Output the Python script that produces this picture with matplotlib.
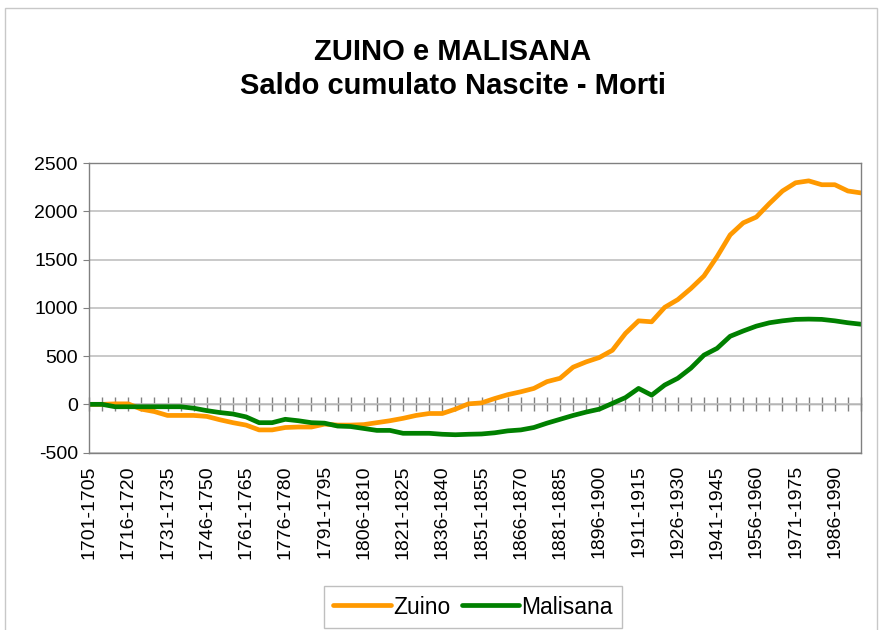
import matplotlib
matplotlib.use("Agg")
import matplotlib.pyplot as plt
from matplotlib.patches import Rectangle

plt.rcParams['font.family'] = ['Liberation Sans', 'DejaVu Sans']

start_years = list(range(1701, 2000, 5))
categories = [f"{y}-{y+4}" for y in start_years]

zuino = [0, 0, 5, 5, -50, -75, -115, -115, -115, -125,
         -160, -190, -215, -265, -265, -240, -235, -235, -205, -215,
         -215, -210, -190, -170, -145, -115, -95, -95, -50, 5,
         15, 60, 100, 130, 165, 235, 270, 385, 440, 485,
         560, 735, 865, 855, 1005, 1085, 1200, 1330, 1530, 1755,
         1880, 1940, 2080, 2210, 2295, 2315, 2275, 2275, 2210, 2190]

malisana = [0, 0, -25, -25, -25, -25, -25, -25, -40, -65,
            -85, -100, -130, -190, -190, -155, -170, -190, -195, -225,
            -230, -250, -270, -270, -300, -300, -300, -310, -315, -310,
            -307, -295, -275, -265, -240, -195, -155, -115, -80, -50,
            10, 70, 165, 95, 200, 270, 375, 510, 580, 705,
            760, 810, 845, 865, 880, 883, 880, 865, 845, 830]

yticks = [-500, 0, 500, 1000, 1500, 2000, 2500]

fig = plt.figure(figsize=(8.82, 6.3), dpi=100)
ax = fig.add_axes([89/882, 1-452.6/630, (861-89)/882, (452.6-163)/630])

x = list(range(len(categories)))
ax.plot(x, zuino, color='#FF9900', lw=3.4, label='Zuino', solid_capstyle='round', solid_joinstyle='round')
ax.plot(x, malisana, color='#008000', lw=3.4, label='Malisana', solid_capstyle='round', solid_joinstyle='round')

ax.set_xlim(0, len(categories)-1)
ax.set_ylim(-500, 2500)
ax.set_yticks(yticks)
ax.set_yticklabels([str(v) for v in yticks], fontsize=14)
ax.yaxis.grid(True, color='#c0c0c0', lw=1.2)
ax.set_axisbelow(True)
ax.tick_params(axis='y', length=4, color='#808080', pad=4)

ax.set_xticks(x[::3])
ax.set_xticklabels(categories[::3], rotation=90, fontsize=14)
ax.tick_params(axis='x', length=0, pad=9)

for s in ax.spines.values():
    s.set_color('#808080')
    s.set_linewidth(1.0)

# zero-line category axis with tick marks
zero_frac = (0 - (-500)) / (2500 - (-500))
sec = ax.secondary_xaxis(zero_frac)
sec.set_xticks(x)
sec.set_xticklabels([])
sec.tick_params(direction='inout', length=10, color='#808080', width=1)
sec.spines['bottom'].set_color('#808080')
sec.spines['bottom'].set_linewidth(1.0)

fig.text(453/882, 1-69/630, "ZUINO e MALISANA\nSaldo cumulato Nascite - Morti",
         ha='center', va='center', fontsize=21, fontweight='bold', linespacing=1.3)

leg = fig.legend(loc='center', bbox_to_anchor=(473/882, 1-607/630), ncol=2,
                 fontsize=16.5, frameon=True, fancybox=False, handlelength=2.5,
                 handletextpad=0.1, columnspacing=0.5, borderpad=0.4)
leg.get_frame().set_edgecolor('#b0b0b0')
leg.get_frame().set_linewidth(1.0)

fig.patches.append(Rectangle((5/882, -5/630), 872/882, 627/630, transform=fig.transFigure,
                             fill=False, edgecolor='#c8c8c8', lw=1.0))

fig.savefig('out.png', dpi=100)
